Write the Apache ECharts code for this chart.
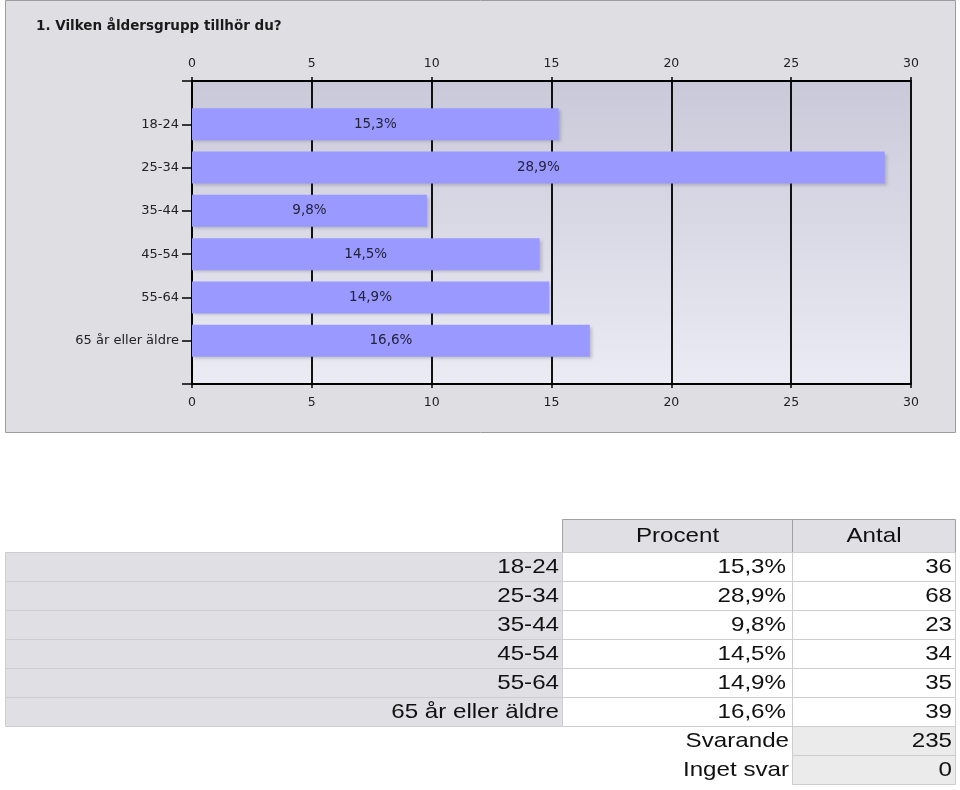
<!DOCTYPE html>
<html><head><meta charset="utf-8">
<script src="https://cdn.jsdelivr.net/npm/echarts@6/dist/echarts.min.js"></script>
<style>html,body{margin:0;padding:0;background:#fff}#c{width:960px;height:790px}</style>
</head><body><div id="c"></div>
<script>
const chartTitle = '1. Vilken åldersgrupp tillhör du?';
const categories = ['18-24', '25-34', '35-44', '45-54', '55-64', '65 år eller äldre'];
const percents = [15.3, 28.9, 9.8, 14.5, 14.9, 16.6];
const counts = [36, 68, 23, 34, 35, 39];
const axisMin = 0, axisMax = 30, axisStep = 5;
const tableHeaders = ['Procent', 'Antal'];
const totalLabels = ['Svarande', 'Inget svar'];
const totalValues = [235, 0];

const fmtPct = v => v.toFixed(1).replace('.', ',') + '%';
const F = 'DejaVu Sans';

// padded category list so that the axis has a half-row margin above and below
const yCats = [''].concat(categories, ['']);
const barData = [null].concat(percents, [null]);

const chart = echarts.init(document.getElementById('c'));

const g = [];
g.push({type: 'rect', z: -10, silent: true,
  shape: {x: 5.5, y: 0.5, width: 950, height: 432},
  style: {fill: '#dfdfe3', stroke: '#9c9c9c', lineWidth: 1}});

// table
const TF = '21px "Liberation Sans", Arial, sans-serif';
const SX = 1.15;
const colL = [5.5, 562.5, 792.5, 955.5];
const headY = 519.5, headH = 33, rowH = 29;
function txt(t, x, y, align) {
  return {type: 'text', z: -4, silent: true, x: x, y: y, scaleX: SX,
    style: {text: t, x: 0, y: 0, fill: '#111', font: TF, align: align, verticalAlign: 'middle'}};
}
tableHeaders.forEach((h, k) => {
  g.push({type: 'rect', z: -5, silent: true,
    shape: {x: colL[k + 1], y: headY, width: colL[k + 2] - colL[k + 1], height: headH},
    style: {fill: '#e0e0e4', stroke: '#a0a0a0', lineWidth: 1}});
  g.push(txt(h, (colL[k + 1] + colL[k + 2]) / 2, headY + headH / 2, 'center'));
});
const rowTop = headY + headH;
categories.forEach((c, i) => {
  const y = rowTop + rowH * i;
  const fills = ['#e0e0e4', '#ffffff', '#ffffff'];
  for (let k = 0; k < 3; k++) {
    g.push({type: 'rect', z: -5, silent: true,
      shape: {x: colL[k], y: y, width: colL[k + 1] - colL[k], height: rowH},
      style: {fill: fills[k], stroke: '#cdcdd0', lineWidth: 1}});
  }
  const texts = [c, fmtPct(percents[i]), String(counts[i])];
  const rx = [559, 786, 952];
  texts.forEach((t, k) => g.push(txt(t, rx[k], y + rowH / 2, 'right')));
});
const totTop = rowTop + rowH * categories.length;
totalLabels.forEach((lab, j) => {
  const y = totTop + rowH * j;
  g.push({type: 'rect', z: -5, silent: true,
    shape: {x: colL[2], y: y, width: colL[3] - colL[2], height: rowH},
    style: {fill: '#ebebeb', stroke: '#cdcdd0', lineWidth: 1}});
  g.push(txt(lab, 789, y + rowH / 2, 'right'));
  g.push(txt(String(totalValues[j]), 952, y + rowH / 2, 'right'));
});

const xAxisCommon = {
  type: 'value', min: axisMin, max: axisMax, interval: axisStep,
  axisLine: {show: true, lineStyle: {color: '#000', width: 2}},
  axisTick: {show: true, length: 4, lineStyle: {color: '#000', width: 1.5}},
  axisLabel: {color: '#222', fontFamily: F, fontSize: 12.5}
};

chart.setOption({
  animation: false,
  backgroundColor: '#ffffff',
  title: {text: chartTitle, left: 31, top: 14,
    textStyle: {fontFamily: F, fontSize: 13.5, fontWeight: 'bold', color: '#1a1a1a'}},
  graphic: {elements: g},
  grid: {left: 192, right: 49, top: 81, bottom: 406, show: true, borderWidth: 0,
    backgroundColor: {type: 'linear', x: 0, y: 0, x2: 0, y2: 1,
      colorStops: [{offset: 0, color: '#c9c9d9'}, {offset: 1, color: '#ebebf4'}]}},
  xAxis: [
    Object.assign({}, xAxisCommon, {position: 'top',
      axisLabel: Object.assign({}, xAxisCommon.axisLabel, {margin: 11}),
      splitLine: {show: true, lineStyle: {color: '#111', width: 2}}}),
    Object.assign({}, xAxisCommon, {position: 'bottom',
      axisLabel: Object.assign({}, xAxisCommon.axisLabel, {margin: 12}),
      splitLine: {show: false}})
  ],
  yAxis: {
    type: 'category', data: yCats, inverse: true, boundaryGap: false,
    axisLine: {show: true, lineStyle: {color: '#000', width: 2}},
    axisTick: {show: true, length: 10, lineStyle: {color: '#000', width: 1.5}},
    axisLabel: {color: '#222', fontFamily: F, fontSize: 13, margin: 13},
    splitLine: {show: false}
  },
  series: [{
    type: 'bar', xAxisIndex: 0, data: barData, barWidth: 32,
    itemStyle: {color: '#9999ff', shadowColor: 'rgba(60,60,80,0.25)', shadowBlur: 3, shadowOffsetX: 2, shadowOffsetY: 2},
    label: {show: true, position: 'inside', color: '#23233a', fontFamily: F, fontSize: 13.5,
      formatter: p => fmtPct(p.value)}
  }]
});
</script>
</body></html>
